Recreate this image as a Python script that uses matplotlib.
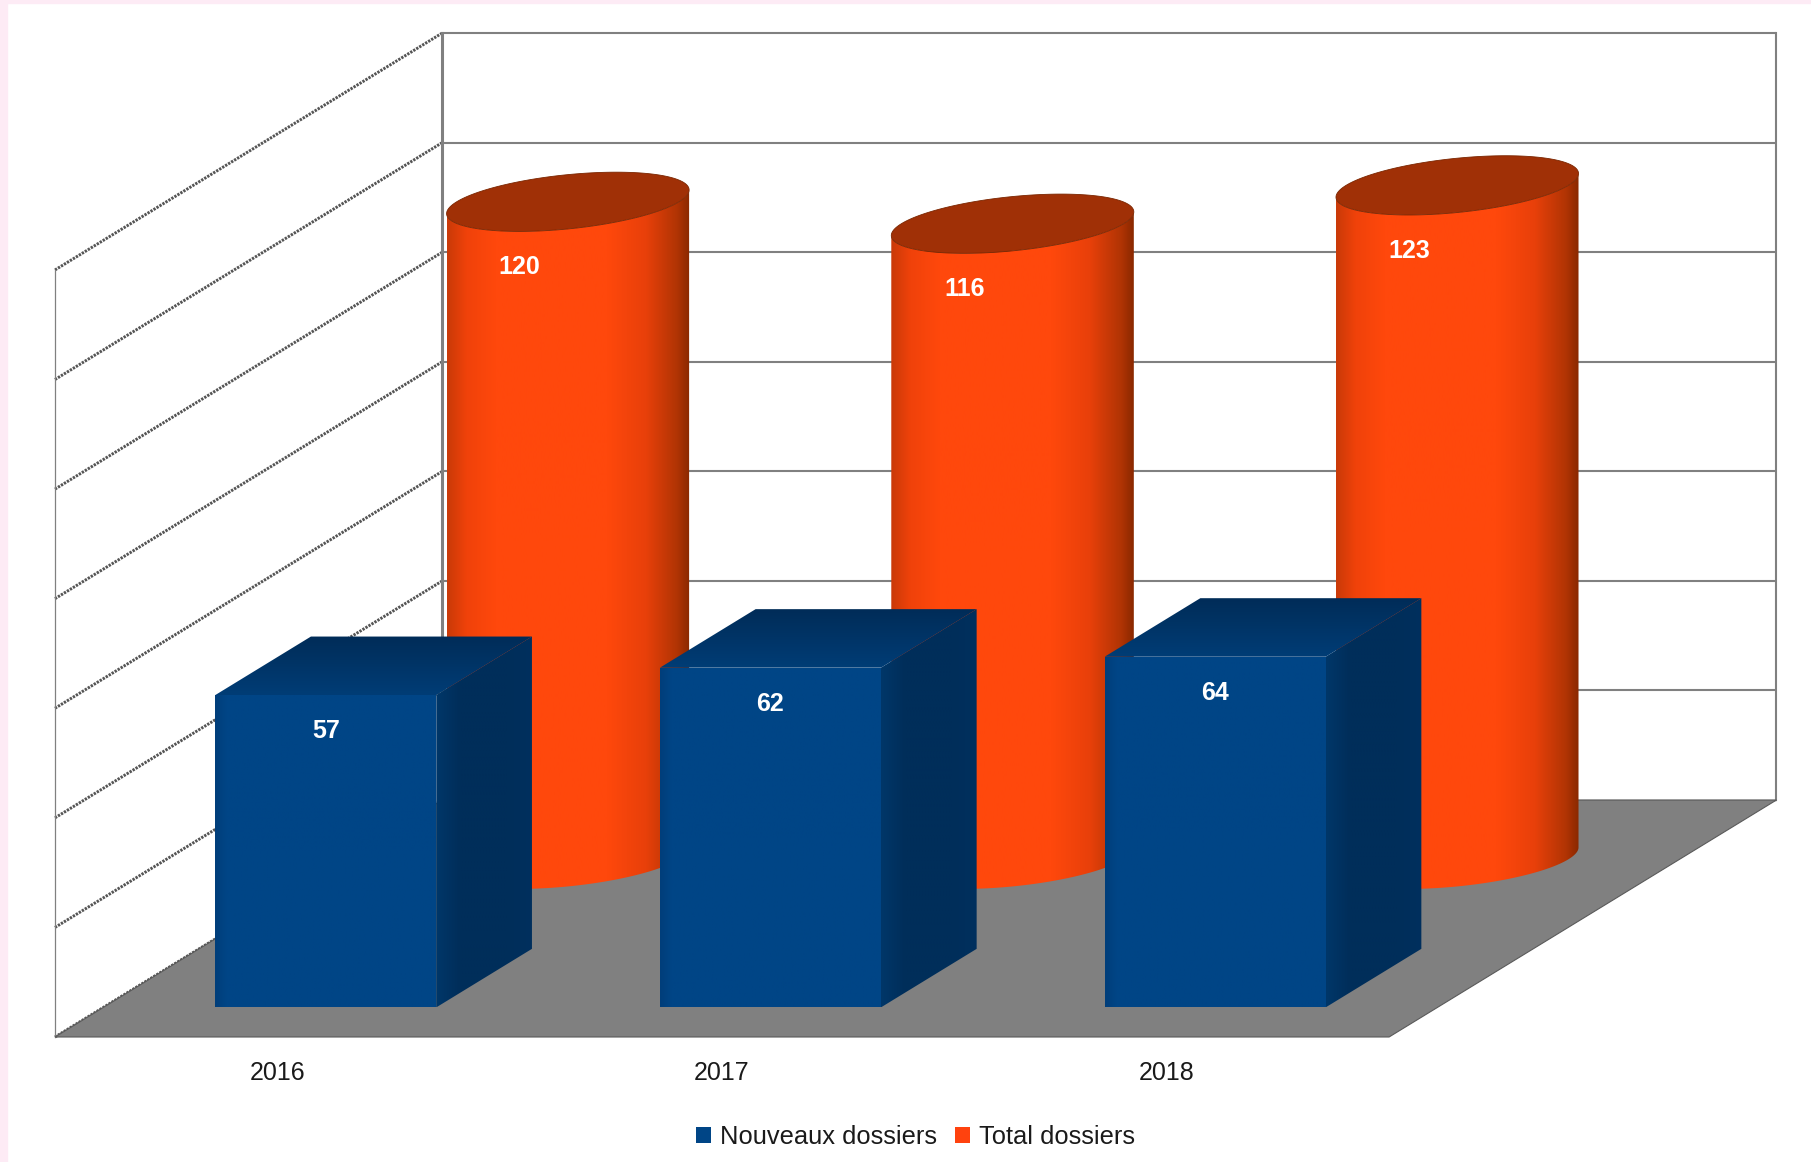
import matplotlib
matplotlib.use('Agg')
import matplotlib.pyplot as plt
import numpy as np
from matplotlib.colors import LinearSegmentedColormap
from matplotlib.patches import Patch, Polygon, Rectangle

# chart values
categories = ['2016', '2017', '2018']
nouveaux = [57, 62, 64]
total = [120, 116, 123]
grid_values = [0, 20, 40, 60, 80, 100, 120, 140]
series_names = ['Nouveaux dossiers', 'Total dossiers']

# oblique projection: one unit of depth moves this far in data units
DX = 0.871
DY = 43.25
PX_PER_CAT = 444.7
PX_PER_VAL = 5.479
BLUE = '#004586'
ORANGE = '#FF420E'

plt.rcParams['font.family'] = ['Liberation Sans', 'DejaVu Sans']

fig = plt.figure(figsize=(18.11, 11.62), dpi=100, facecolor='white')
ax = fig.add_axes([0, 0, 1, 1])
ax.axis('off')

fig.patches.append(Rectangle((0, 0), 7 / 1811, 1, transform=fig.transFigure, color='#FDEBF5'))
fig.patches.append(Rectangle((0, 1 - 3 / 1162), 1, 3 / 1162, transform=fig.transFigure, color='#FDEBF5'))


def proj(x, v, d):
    return x + np.asarray(d) * DX, v + np.asarray(d) * DY


def shaded(points, colours, stops, z, horizontal=True):
    # gradient image clipped to a polygon
    points = np.asarray(points)
    x0, x1 = points[:, 0].min(), points[:, 0].max()
    y0, y1 = points[:, 1].min(), points[:, 1].max()
    cmap = LinearSegmentedColormap.from_list('g', list(zip(stops, colours)))
    ramp = np.linspace(0, 1, 256)
    ramp = ramp[None, :] if horizontal else ramp[:, None]
    im = ax.imshow(ramp, cmap=cmap, vmin=0, vmax=1, extent=(x0, x1, y0, y1), origin='lower',
                   aspect='auto', zorder=z, interpolation='bilinear')
    clip = Polygon(points, closed=True, transform=ax.transData, facecolor='none', edgecolor='none', zorder=z)
    ax.add_patch(clip)
    im.set_clip_path(clip)


n = len(categories)
top = grid_values[-1]

# floor
floor = [proj(0, 0, 0), proj(n, 0, 0), proj(n, 0, 1), proj(0, 0, 1)]
ax.add_patch(Polygon(floor, closed=True, facecolor='#808080', edgecolor='#5a5a5a', linewidth=0.8, zorder=2))

# walls and gridlines
for g in grid_values:
    bx, by = proj(np.array([0, n]), g, 1)
    ax.plot(bx, [by, by], color='#808080', lw=1.5 if g else 1.0, zorder=1, solid_capstyle='butt')
    lx, ly = proj(0, g, np.array([0, 1]))
    ax.plot([lx[0], lx[1]], ly, color='#555555', lw=2.1, ls=(0, (0.8, 0.4)), zorder=1)
bx, by0 = proj(0, 0, 1)
_, by1 = proj(0, top, 1)
ax.plot([bx, bx], [by0, by1], color='#808080', lw=2.2, zorder=1)
rx, _ = proj(n, 0, 1)
ax.plot([rx, rx], [by0, by1], color='#808080', lw=1.5, zorder=1)
ax.plot([0, 0], [0, top], color='#808080', lw=0.9, zorder=1)

# cylinders for the totals
half_w = 0.25
half_d = 0.125
t0 = np.arctan2(half_d * DX, half_w)
front = np.linspace(t0 - np.pi, t0, 120)
whole = np.linspace(0, 2 * np.pi, 240)
body_cols = ['#C93A08', '#F0420A', '#FF480C', '#FF480C', '#E8400A', '#B03404', '#8A2800']
body_stops = [0, 0.08, 0.2, 0.66, 0.82, 0.95, 1]
z = 3
for i, v in enumerate(total):
    cx = i + 0.5
    tx, ty = proj(cx + half_w * np.cos(front), v, 0.75 + half_d * np.sin(front))
    fx, fy = proj(cx + half_w * np.cos(front), 0, 0.75 + half_d * np.sin(front))
    body = np.column_stack([np.r_[tx, fx[::-1]], np.r_[ty, fy[::-1]]])
    shaded(body, body_cols, body_stops, z)
    ex, ey = proj(cx + half_w * np.cos(whole), v, 0.75 + half_d * np.sin(whole))
    ax.add_patch(Polygon(np.column_stack([ex, ey]), closed=True, facecolor='#A03006', edgecolor='#7a2500',
                         linewidth=0.6, zorder=z + 0.5))
    lx, ly = proj(cx, v, 0.625)
    ax.text(lx, ly - 6.5, str(v), color='white', fontsize=18, fontweight='bold', ha='center', va='center', zorder=9)

# boxes for the new files
w = 0.2485
for i, v in enumerate(nouveaux):
    x0, x1 = i + 0.5 - w, i + 0.5 + w
    d0, d1 = 0.125, 0.372
    side = [proj(x1, 0, d0), proj(x1, 0, d1), proj(x1, v, d1), proj(x1, v, d0)]
    shaded(side, ['#003769', '#002E5A', '#002E5A', '#00305E'], [0, 0.25, 0.75, 1], 5)
    lid = [proj(x0, v, d0), proj(x1, v, d0), proj(x1, v, d1), proj(x0, v, d1)]
    shaded(lid, ['#003D76', '#002C58'], [0, 1], 5, horizontal=False)
    face = [proj(x0, 0, d0), proj(x1, 0, d0), proj(x1, v, d0), proj(x0, v, d0)]
    shaded(face, ['#003E7A', BLUE, BLUE, BLUE], [0, 0.05, 0.93, 1], 6)
    lx, ly = proj(i + 0.5, v, d0)
    ax.text(lx, ly - 6.6, str(v), color='white', fontsize=18, fontweight='bold', ha='center', va='center', zorder=9)

# category labels
for i, c in enumerate(categories):
    ax.text(i + 0.5, -6.6, c, color='#1a1a1a', fontsize=18, ha='center', va='center', zorder=9)

handles = [Patch(facecolor=BLUE, label=series_names[0]), Patch(facecolor=ORANGE, label=series_names[1])]
ax.legend(handles=handles, ncol=2, loc='center', bbox_to_anchor=(0.5055, 0.0212), frameon=False, fontsize=18.4,
          labelcolor='#1a1a1a', handlelength=0.6, handleheight=0.6, handletextpad=0.35, columnspacing=0.7,
          borderpad=0, borderaxespad=0)

ax.set_xlim(-55 / PX_PER_CAT, (1811 - 55) / PX_PER_CAT)
ax.set_ylim((1037 - 1162) / PX_PER_VAL, 1037 / PX_PER_VAL)

fig.savefig('out.png', dpi=100, facecolor=fig.get_facecolor())
